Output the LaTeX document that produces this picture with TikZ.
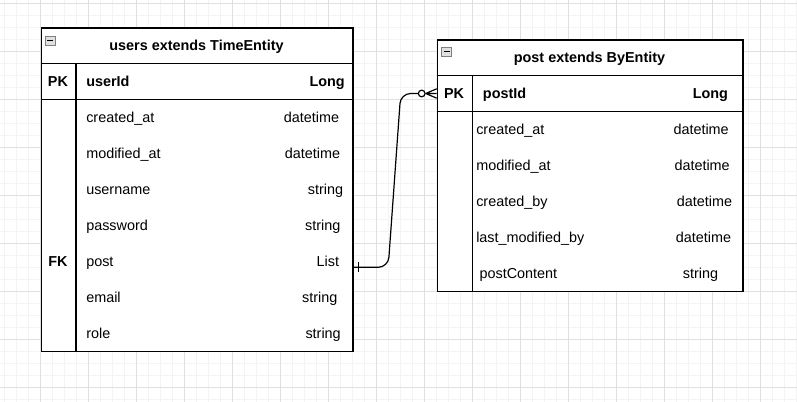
\documentclass[tikz,border=0pt]{standalone}
\usepackage{fontspec}
\setmainfont{Liberation Sans}
\usetikzlibrary{calc}
\definecolor{majorgrid}{RGB}{224,224,224}
\definecolor{minorgrid}{RGB}{244,244,244}
\begin{document}
\begin{tikzpicture}[x=0.75pt,y=-0.75pt,
  every node/.style={inner sep=0pt, text height=1.5ex, text depth=.25ex, font=\fontsize{10.8}{12}\selectfont},
  tbl/.style={draw=black, line width=1pt},
  bold/.style={font=\fontsize{10.8}{12}\selectfont\bfseries},
  conn/.style={draw=black, line width=0.9pt},
  minus/.style={draw=black!50, fill=black!12, line width=0.5pt}]
\useasboundingbox (0,0) rectangle (797,402);
\fill[white] (0,0) rectangle (797,402);

% grid
\foreach \x in {4.7,16.7,...,797}
    \draw[minorgrid, line width=0.75pt] (\x,0) -- (\x,402);
\foreach \y in {3.3,15.3,...,402}
    \draw[minorgrid, line width=0.75pt] (0,\y) -- (797,\y);
\foreach \x in {40.7,88.7,...,797}
    \draw[majorgrid, line width=0.75pt] (\x,0) -- (\x,402);
\foreach \y in {3.3,51.3,...,402}
    \draw[majorgrid, line width=0.75pt] (0,\y) -- (797,\y);

% users table
\node[tbl, fill=white, anchor=north west, minimum width=233.7pt, minimum height=242.8pt] (users) at (40.7,27.3) {};
\draw[tbl] (40.7,63.3) -- (352.3,63.3) (40.7,99.3) -- (352.3,99.3) (76,63.3) -- (76,351);
\draw[minus] (45,36) rectangle (55,45);
\draw[line width=1pt] (47,40.5) -- (53,40.5);
\node[bold] (uhead) at (196.5,46.3) {users extends TimeEntity};
\node[bold] (upk) at (58,82.3) {PK};
\node[bold, anchor=west] (uid) at (86,82.3) {userId};
\node[bold, anchor=east] (ulong) at (345,82.3) {Long};
\foreach \name/\type/\tx [count=\i] in {created\_at/datetime/339.3, modified\_at/datetime/340.3,
    username/string/343.3, password/string/340.7, post/List/339.3, email/string/337.7, role/string/341}
{
    \node[anchor=west] (ufld\i) at (86,82.3+36*\i) {\name};
    \node[anchor=east] (utyp\i) at (\tx,82.3+36*\i) {\type};
}
\node[bold] (ufk) at (58,262.3) {FK};

% post table
\node[tbl, fill=white, anchor=north west, minimum width=229.2pt, minimum height=188.8pt] (post) at (436.7,39.3) {};
\draw[tbl] (436.7,75.7) -- (742.3,75.7) (436.7,111.3) -- (742.3,111.3) (472.3,75.7) -- (472.3,291);
\draw[minus] (441.7,47.3) rectangle (451.7,56.3);
\draw[line width=1pt] (443.7,51.8) -- (449.7,51.8);
\node[bold] (phead) at (589.5,58.5) {post extends ByEntity};
\node[bold] (ppk) at (454,94.5) {PK};
\node[bold, anchor=west] (pid) at (482.7,94.5) {postId};
\node[bold, anchor=east] (plong) at (728.3,94.5) {Long};
\foreach \name/\type/\lx/\tx [count=\i] in {created\_at/datetime/476/729, modified\_at/datetime/476/730,
    created\_by/datetime/476/732.3, last\_modified\_by/datetime/476/731.3, postContent/string/479.3/718.3}
{
    \node[anchor=west] (pfld\i) at (\lx,94.5+36*\i) {\name};
    \node[anchor=east] (ptyp\i) at (\tx,94.5+36*\i) {\type};
}

% relation users.post -> post
\coordinate (src) at ($(users.east |- ufld5)+(0,5)$);
\coordinate (dst) at ($(post.west |- ppk)+(0,-1)$);
\draw[conn, rounded corners=7.5pt] (src) -- (388.2,267.3) -- (400.7,93.5) -- ($(dst)+(-18.3,0)$);
\draw[conn] ($(src)+(4.7,-5)$) -- ++(0,10);
\draw[conn, fill=white] ($(dst)+(-15,0)$) circle (2.5pt);
\draw[conn] ($(dst)+(-11,0)$) -- ($(dst)+(0,-4.7)$)
    ($(dst)+(-11,0)$) -- (dst)
    ($(dst)+(-11,0)$) -- ($(dst)+(0,4.7)$);

\end{tikzpicture}
\end{document}
